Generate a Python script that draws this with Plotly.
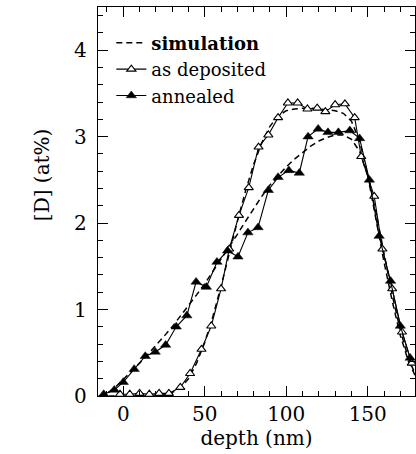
import plotly.graph_objects as go

# ---- data ----
dep_x = [-2, 4, 10, 16, 22, 28, 35, 41, 48, 54, 60, 65, 71, 77, 83, 89, 95, 101, 107, 113, 119, 124, 130, 136, 142, 146, 154, 159, 165, 171, 177]
dep_y = [0.02, 0.02, 0.03, 0.02, 0.03, 0.03, 0.10, 0.26, 0.54, 0.81, 1.24, 1.70, 2.09, 2.41, 2.88, 3.02, 3.22, 3.39, 3.39, 3.32, 3.33, 3.29, 3.37, 3.38, 3.22, 2.77, 2.31, 1.70, 1.24, 0.74, 0.38]

ann_x = [-12, -5.5, 0, 6.7, 13.5, 19.6, 26, 32.5, 39, 44.7, 51, 57.5, 64, 70.4, 76.5, 82.7, 89, 95, 101.6, 108, 113.4, 119.6, 125.6, 132, 139, 145, 151, 157, 164, 170, 176]
ann_y = [0.02, 0.07, 0.16, 0.31, 0.46, 0.51, 0.59, 0.80, 0.93, 1.32, 1.26, 1.55, 1.68, 1.61, 1.89, 1.95, 2.38, 2.53, 2.61, 2.58, 3.00, 3.09, 3.05, 3.05, 3.07, 2.98, 2.50, 1.85, 1.33, 0.81, 0.44]

sim_x = [-15, -10, -5, 0, 5, 10, 15, 20, 25, 30, 35, 40, 45, 50, 55, 60, 65, 70, 75, 80, 85, 90, 95, 100, 105, 110, 115, 120, 125, 130, 135, 140, 145, 150, 155, 160, 165, 170, 175, 180]
sim_dep = [0, 0, 0, 0, 0, 0, 0, 0.01, 0.02, 0.04, 0.09, 0.2, 0.38, 0.62, 0.92, 1.27, 1.65, 2.02, 2.37, 2.68, 2.93, 3.12, 3.24, 3.3, 3.32, 3.33, 3.33, 3.32, 3.31, 3.3, 3.27, 3.18, 2.95, 2.55, 2.05, 1.55, 1.1, 0.7, 0.4, 0.2]
sim_ann = [0, 0.03, 0.1, 0.19, 0.28, 0.38, 0.48, 0.58, 0.69, 0.8, 0.92, 1.04, 1.17, 1.3, 1.44, 1.58, 1.72, 1.87, 2.02, 2.17, 2.31, 2.44, 2.55, 2.65, 2.74, 2.82, 2.89, 2.95, 2.99, 3.02, 3.02, 2.97, 2.83, 2.55, 2.13, 1.65, 1.17, 0.76, 0.43, 0.22]

x_ticks = [0, 50, 100, 150]
y_ticks = [0, 1, 2, 3, 4]

FONT = "DejaVu Serif"

fig = go.Figure()
fig.add_trace(go.Scatter(x=sim_x, y=sim_dep, mode="lines", name="<b>simulation</b>",
                         legendgroup="sim",
                         line=dict(color="black", width=1.5, dash="6px,4px")))
fig.add_trace(go.Scatter(x=sim_x, y=sim_ann, mode="lines", name="simulation",
                         legendgroup="sim", showlegend=False,
                         line=dict(color="black", width=1.5, dash="6px,4px")))
fig.add_trace(go.Scatter(x=dep_x, y=dep_y, mode="lines+markers", name="as deposited",
                         line=dict(color="black", width=1.1),
                         marker=dict(symbol="triangle-up", size=8, color="white",
                                     line=dict(color="black", width=1.1))))
fig.add_trace(go.Scatter(x=ann_x, y=ann_y, mode="lines+markers", name="annealed",
                         line=dict(color="black", width=1.1),
                         marker=dict(symbol="triangle-up", size=9, color="black",
                                     line=dict(color="black", width=0.5))))

axis_common = dict(showgrid=False, zeroline=False, showline=True, linecolor="black",
                   linewidth=1.3, mirror="ticks", ticks="inside", ticklen=10,
                   tickwidth=1.2, tickcolor="black",
                   tickfont=dict(family=FONT, size=20, color="black"))

fig.update_xaxes(range=[-15.5, 179], tickvals=x_ticks,
                 minor=dict(dtick=10, ticks="inside", ticklen=5, tickcolor="black", tickwidth=1),
                 title=dict(text="depth (nm)", font=dict(family=FONT, size=20, color="black"), standoff=3),
                 **axis_common)
fig.update_yaxes(range=[0, 4.5], tickvals=y_ticks,
                 minor=dict(dtick=0.2, ticks="inside", ticklen=5, tickcolor="black", tickwidth=1),
                 ticklabelstandoff=6,
                 **axis_common)

fig.add_annotation(text="[D] (at%)", xref="paper", yref="paper",
                   x=-0.177, y=0.57, xanchor="center", yanchor="middle",
                   textangle=-90, showarrow=False,
                   font=dict(family=FONT, size=20, color="black"))

fig.update_layout(
    width=416, height=454,
    margin=dict(l=98, r=1, t=7, b=58),
    paper_bgcolor="white", plot_bgcolor="white",
    showlegend=True,
    legend=dict(x=0.042, y=0.955, xanchor="left", yanchor="top",
                bgcolor="rgba(0,0,0,0)", borderwidth=0,
                font=dict(family=FONT, size=18, color="black"),
                tracegroupgap=0, itemwidth=30),
)

fig.write_html("out.html")
